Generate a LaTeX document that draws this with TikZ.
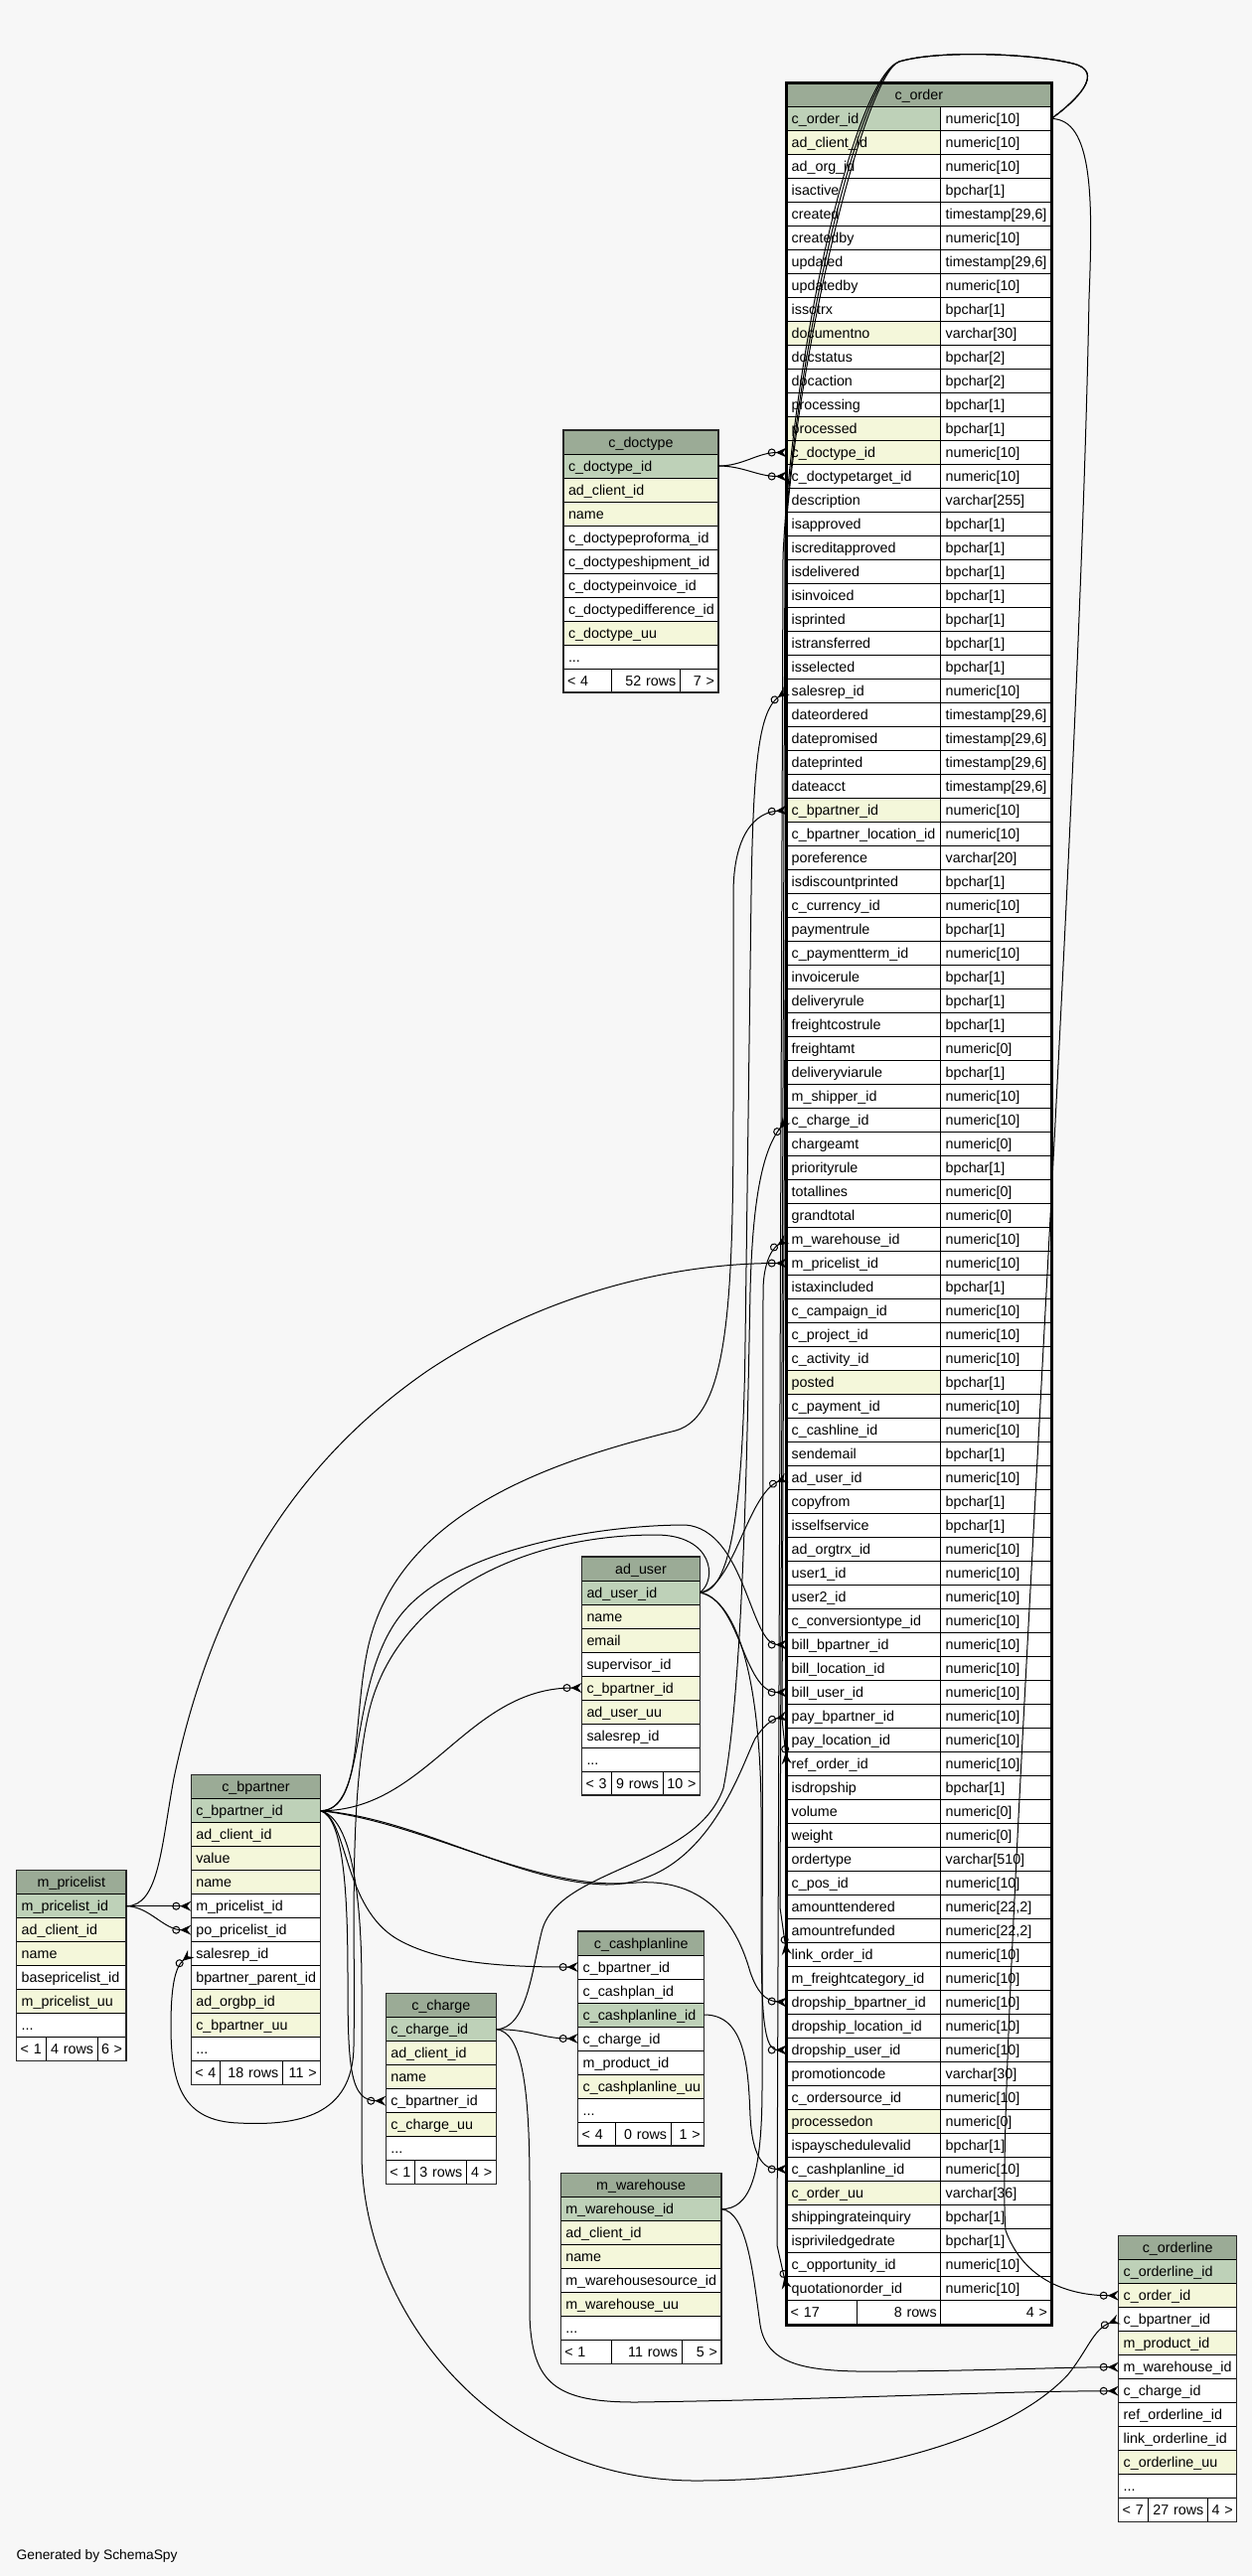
\documentclass[tikz,border=0pt]{standalone}
\usepackage{fontspec}
\setmainfont{Liberation Sans}
\usetikzlibrary{arrows.meta}
\hyphenpenalty=10000
\hbadness=10000
\hfuzz=20pt
\definecolor{bg}{HTML}{F7F7F7}
\definecolor{hdr}{HTML}{9BAB96}
\definecolor{pk}{HTML}{BED1B8}
\definecolor{ix}{HTML}{F4F7DA}
\definecolor{wt}{HTML}{FFFFFF}
\tikzset{
 cellbase/.style={draw=black, line width=0.8pt, inner xsep=5pt, inner ysep=0pt, minimum height=24pt, text height=11.5pt, text depth=1.5pt, anchor=north west, outer sep=0pt},
 hdrcell/.style={cellbase, fill=hdr, align=center},
 footcell/.style={cellbase, fill=wt, inner xsep=4pt},
 fk/.style={draw=black, line width=1pt, -{Circle[open,length=8pt,width=8pt] Stealth[reversed,length=11pt,width=10pt,inset=4pt]}},
 tborder/.style={draw=black!85, line width=1.4pt},
}
\newcommand\settab[4]{\def\Tn{#1}\def\Tx{#2}\def\Ty{#3}\def\Tw{#4}}
\newcommand\thd[1]{\node[hdrcell, minimum width=\Tw pt] (\Tn-h) at (\Tx,\Ty) {#1};}
\newcommand\trw[3]{\pgfmathsetmacro\Tyy{\Ty+24*#1}\pgfmathsetmacro\Tww{\Tw-10}%
 \node[cellbase, fill=#2, text width=\Tww pt, align=left] (\Tn-#1) at (\Tx,\Tyy) {\mbox{#3}};}
\newcommand\orw[4]{\pgfmathsetmacro\Tyy{83.5+24*#1}%
 \node[cellbase, fill=#2, text width=145pt, align=left] (o-#1) at (791.7,\Tyy) {\mbox{#3}};%
 \node[cellbase, fill=wt, text width=101.3pt, align=left] (ot-#1) at (946.7,\Tyy) {\mbox{#4}};}
\newcommand\tft[6]{\pgfmathsetmacro\Tyy{\Ty+24*#1}%
 \pgfmathsetmacro\Wa{#2-\Tx-8}\pgfmathsetmacro\Wb{#3-#2-8}\pgfmathsetmacro\Wc{\Tx+\Tw-#3-8}%
 \node[footcell, text width=\Wa pt, align=left] (\Tn-fa) at (\Tx,\Tyy) {\mbox{#4}};%
 \node[footcell, text width=\Wb pt, align=right] (\Tn-fb) at (#2,\Tyy) {\mbox{#5}};%
 \node[footcell, text width=\Wc pt, align=right] (\Tn-fc) at (#3,\Tyy) {\mbox{#6}};%
 \pgfmathsetmacro\Th{24*(#1+1)}%
 \draw[tborder] (\Tx,\Ty) rectangle ++(\Tw,\Th);}
\begin{document}
\begin{tikzpicture}[x=1pt,y=-1pt,font=\fontsize{14.3}{17}\selectfont]
\useasboundingbox (0,0) rectangle (1260,2593);
\fill[bg] (0,0) rectangle (1260,2593);

% ---------- c_order ----------
\settab{o}{791.7}{83.5}{266.3}
\thd{c\_order}
\orw{1}{pk}{c\_order\_id}{numeric[10]}
\orw{2}{ix}{ad\_client\_id}{numeric[10]}
\orw{3}{wt}{ad\_org\_id}{numeric[10]}
\orw{4}{wt}{isactive}{bpchar[1]}
\orw{5}{wt}{created}{timestamp[29,6]}
\orw{6}{wt}{createdby}{numeric[10]}
\orw{7}{wt}{updated}{timestamp[29,6]}
\orw{8}{wt}{updatedby}{numeric[10]}
\orw{9}{wt}{issotrx}{bpchar[1]}
\orw{10}{ix}{documentno}{varchar[30]}
\orw{11}{wt}{docstatus}{bpchar[2]}
\orw{12}{wt}{docaction}{bpchar[2]}
\orw{13}{wt}{processing}{bpchar[1]}
\orw{14}{ix}{processed}{bpchar[1]}
\orw{15}{ix}{c\_doctype\_id}{numeric[10]}
\orw{16}{wt}{c\_doctypetarget\_id}{numeric[10]}
\orw{17}{wt}{description}{varchar[255]}
\orw{18}{wt}{isapproved}{bpchar[1]}
\orw{19}{wt}{iscreditapproved}{bpchar[1]}
\orw{20}{wt}{isdelivered}{bpchar[1]}
\orw{21}{wt}{isinvoiced}{bpchar[1]}
\orw{22}{wt}{isprinted}{bpchar[1]}
\orw{23}{wt}{istransferred}{bpchar[1]}
\orw{24}{wt}{isselected}{bpchar[1]}
\orw{25}{wt}{salesrep\_id}{numeric[10]}
\orw{26}{wt}{dateordered}{timestamp[29,6]}
\orw{27}{wt}{datepromised}{timestamp[29,6]}
\orw{28}{wt}{dateprinted}{timestamp[29,6]}
\orw{29}{wt}{dateacct}{timestamp[29,6]}
\orw{30}{ix}{c\_bpartner\_id}{numeric[10]}
\orw{31}{wt}{c\_bpartner\_location\_id}{numeric[10]}
\orw{32}{wt}{poreference}{varchar[20]}
\orw{33}{wt}{isdiscountprinted}{bpchar[1]}
\orw{34}{wt}{c\_currency\_id}{numeric[10]}
\orw{35}{wt}{paymentrule}{bpchar[1]}
\orw{36}{wt}{c\_paymentterm\_id}{numeric[10]}
\orw{37}{wt}{invoicerule}{bpchar[1]}
\orw{38}{wt}{deliveryrule}{bpchar[1]}
\orw{39}{wt}{freightcostrule}{bpchar[1]}
\orw{40}{wt}{freightamt}{numeric[0]}
\orw{41}{wt}{deliveryviarule}{bpchar[1]}
\orw{42}{wt}{m\_shipper\_id}{numeric[10]}
\orw{43}{wt}{c\_charge\_id}{numeric[10]}
\orw{44}{wt}{chargeamt}{numeric[0]}
\orw{45}{wt}{priorityrule}{bpchar[1]}
\orw{46}{wt}{totallines}{numeric[0]}
\orw{47}{wt}{grandtotal}{numeric[0]}
\orw{48}{wt}{m\_warehouse\_id}{numeric[10]}
\orw{49}{wt}{m\_pricelist\_id}{numeric[10]}
\orw{50}{wt}{istaxincluded}{bpchar[1]}
\orw{51}{wt}{c\_campaign\_id}{numeric[10]}
\orw{52}{wt}{c\_project\_id}{numeric[10]}
\orw{53}{wt}{c\_activity\_id}{numeric[10]}
\orw{54}{ix}{posted}{bpchar[1]}
\orw{55}{wt}{c\_payment\_id}{numeric[10]}
\orw{56}{wt}{c\_cashline\_id}{numeric[10]}
\orw{57}{wt}{sendemail}{bpchar[1]}
\orw{58}{wt}{ad\_user\_id}{numeric[10]}
\orw{59}{wt}{copyfrom}{bpchar[1]}
\orw{60}{wt}{isselfservice}{bpchar[1]}
\orw{61}{wt}{ad\_orgtrx\_id}{numeric[10]}
\orw{62}{wt}{user1\_id}{numeric[10]}
\orw{63}{wt}{user2\_id}{numeric[10]}
\orw{64}{wt}{c\_conversiontype\_id}{numeric[10]}
\orw{65}{wt}{bill\_bpartner\_id}{numeric[10]}
\orw{66}{wt}{bill\_location\_id}{numeric[10]}
\orw{67}{wt}{bill\_user\_id}{numeric[10]}
\orw{68}{wt}{pay\_bpartner\_id}{numeric[10]}
\orw{69}{wt}{pay\_location\_id}{numeric[10]}
\orw{70}{wt}{ref\_order\_id}{numeric[10]}
\orw{71}{wt}{isdropship}{bpchar[1]}
\orw{72}{wt}{volume}{numeric[0]}
\orw{73}{wt}{weight}{numeric[0]}
\orw{74}{wt}{ordertype}{varchar[510]}
\orw{75}{wt}{c\_pos\_id}{numeric[10]}
\orw{76}{wt}{amounttendered}{numeric[22,2]}
\orw{77}{wt}{amountrefunded}{numeric[22,2]}
\orw{78}{wt}{link\_order\_id}{numeric[10]}
\orw{79}{wt}{m\_freightcategory\_id}{numeric[10]}
\orw{80}{wt}{dropship\_bpartner\_id}{numeric[10]}
\orw{81}{wt}{dropship\_location\_id}{numeric[10]}
\orw{82}{wt}{dropship\_user\_id}{numeric[10]}
\orw{83}{wt}{promotioncode}{varchar[30]}
\orw{84}{wt}{c\_ordersource\_id}{numeric[10]}
\orw{85}{ix}{processedon}{numeric[0]}
\orw{86}{wt}{ispayschedulevalid}{bpchar[1]}
\orw{87}{wt}{c\_cashplanline\_id}{numeric[10]}
\orw{88}{ix}{c\_order\_uu}{varchar[36]}
\orw{89}{wt}{shippingrateinquiry}{bpchar[1]}
\orw{90}{wt}{ispriviledgedrate}{bpchar[1]}
\orw{91}{wt}{c\_opportunity\_id}{numeric[10]}
\orw{92}{wt}{quotationorder\_id}{numeric[10]}
\tft{93}{862.3}{946.7}{< 17}{8 rows}{4 >}
\draw[black, line width=3pt] (791.7,83.5) rectangle (1058,2340);

% ---------- c_doctype ----------
\settab{dt}{567}{433}{156}
\thd{c\_doctype}
\trw{1}{pk}{c\_doctype\_id}
\trw{2}{ix}{ad\_client\_id}
\trw{3}{ix}{name}
\trw{4}{wt}{c\_doctypeproforma\_id}
\trw{5}{wt}{c\_doctypeshipment\_id}
\trw{6}{wt}{c\_doctypeinvoice\_id}
\trw{7}{wt}{c\_doctypedifference\_id}
\trw{8}{ix}{c\_doctype\_uu}
\trw{9}{wt}{...}
\tft{10}{615}{684.3}{< 4}{52 rows}{7 >}

% ---------- ad_user ----------
\settab{au}{585.5}{1567}{119}
\thd{ad\_user}
\trw{1}{pk}{ad\_user\_id}
\trw{2}{ix}{name}
\trw{3}{ix}{email}
\trw{4}{wt}{supervisor\_id}
\trw{5}{ix}{c\_bpartner\_id}
\trw{6}{ix}{ad\_user\_uu}
\trw{7}{wt}{salesrep\_id}
\trw{8}{wt}{...}
\tft{9}{615}{667}{< 3}{9 rows}{10 >}

% ---------- c_bpartner ----------
\settab{bp}{192.3}{1786.7}{130.4}
\thd{c\_bpartner}
\trw{1}{pk}{c\_bpartner\_id}
\trw{2}{ix}{ad\_client\_id}
\trw{3}{ix}{value}
\trw{4}{ix}{name}
\trw{5}{wt}{m\_pricelist\_id}
\trw{6}{wt}{po\_pricelist\_id}
\trw{7}{wt}{salesrep\_id}
\trw{8}{wt}{bpartner\_parent\_id}
\trw{9}{ix}{ad\_orgbp\_id}
\trw{10}{ix}{c\_bpartner\_uu}
\trw{11}{wt}{...}
\tft{12}{221.7}{284.3}{< 4}{18 rows}{11 >}

% ---------- m_pricelist ----------
\settab{pl}{16.7}{1882.7}{110.3}
\thd{m\_pricelist}
\trw{1}{pk}{m\_pricelist\_id}
\trw{2}{ix}{ad\_client\_id}
\trw{3}{ix}{name}
\trw{4}{wt}{basepricelist\_id}
\trw{5}{ix}{m\_pricelist\_uu}
\trw{6}{wt}{...}
\tft{7}{46}{98}{< 1}{4 rows}{6 >}

% ---------- c_charge ----------
\settab{ch}{388.3}{2006.7}{111}
\thd{c\_charge}
\trw{1}{pk}{c\_charge\_id}
\trw{2}{ix}{ad\_client\_id}
\trw{3}{ix}{name}
\trw{4}{wt}{c\_bpartner\_id}
\trw{5}{ix}{c\_charge\_uu}
\trw{6}{wt}{...}
\tft{7}{417.7}{469.3}{< 1}{3 rows}{4 >}

% ---------- c_cashplanline ----------
\settab{cp}{581.7}{1944}{127}
\thd{c\_cashplanline}
\trw{1}{wt}{c\_bpartner\_id}
\trw{2}{wt}{c\_cashplan\_id}
\trw{3}{pk}{c\_cashplanline\_id}
\trw{4}{wt}{c\_charge\_id}
\trw{5}{wt}{m\_product\_id}
\trw{6}{ix}{c\_cashplanline\_uu}
\trw{7}{wt}{...}
\tft{8}{619}{675}{< 4}{0 rows}{1 >}

% ---------- m_warehouse ----------
\settab{wh}{564.3}{2187.7}{161.7}
\thd{m\_warehouse}
\trw{1}{pk}{m\_warehouse\_id}
\trw{2}{ix}{ad\_client\_id}
\trw{3}{ix}{name}
\trw{4}{wt}{m\_warehousesource\_id}
\trw{5}{ix}{m\_warehouse\_uu}
\trw{6}{wt}{...}
\tft{7}{615}{686}{< 1}{11 rows}{5 >}

% ---------- c_orderline ----------
\settab{ol}{1125.7}{2250.7}{119}
\thd{c\_orderline}
\trw{1}{pk}{c\_orderline\_id}
\trw{2}{ix}{c\_order\_id}
\trw{3}{wt}{c\_bpartner\_id}
\trw{4}{ix}{m\_product\_id}
\trw{5}{wt}{m\_warehouse\_id}
\trw{6}{wt}{c\_charge\_id}
\trw{7}{wt}{ref\_orderline\_id}
\trw{8}{wt}{link\_orderline\_id}
\trw{9}{ix}{c\_orderline\_uu}
\trw{10}{wt}{...}
\tft{11}{1155}{1215.3}{< 7}{27 rows}{4 >}

\node[anchor=west, inner sep=0pt, font=\fontsize{13.8}{16}\selectfont] (gen) at (16.5,2573) {Generated by SchemaSpy};

% ---------- connectors ----------
% c_doctype
\draw[fk] (dt-1.east) .. controls (748,469) and (762,455.5) .. (o-15.west);
\draw[fk] (dt-1.east) .. controls (748,469) and (762,479.5) .. (o-16.west);
% self references of c_order
\draw[fk] (ot-1.east) .. controls (1085,100) and (1112,72) .. (1080,64) .. controls (1040,54) and (945,50) .. (905,62) .. controls (872,74) and (808,330) .. (792,520) -- (787,1730) -- (o-70.west);
\draw[fk] (ot-1.east) .. controls (1085,100) and (1112,72) .. (1080,64) .. controls (1040,54) and (945,50) .. (905,62) .. controls (866,76) and (803,340) .. (790,540) -- (785,1920) -- (o-78.west);
\draw[fk] (ot-1.east) .. controls (1085,100) and (1112,72) .. (1080,64) .. controls (1040,54) and (945,50) .. (905,62) .. controls (860,78) and (798,350) .. (788,560) -- (782,2260) -- (o-92.west);
% c_order -> c_orderline
\draw[fk] (ot-1.east) .. controls (1100,119.5) and (1100,200) .. (1096,300) .. controls (1085,900) and (1000,2100) .. (1012,2245) .. controls (1030,2295) and (1075,2310.7) .. (ol-2.west);
% ad_user
\draw[fk] (au-1.east) .. controls (735,1603) and (748,1520) .. (750,1350) -- (756,900) .. controls (758,760) and (765,715) .. (o-25.west);
\draw[fk] (au-1.east) .. controls (738,1598) and (752,1505) .. (o-58.west);
\draw[fk] (au-1.east) .. controls (745,1610) and (748,1703.5) .. (o-67.west);
\draw[fk] (au-1.east) .. controls (745,1612) and (765,1700) .. (766,1820) .. controls (767,1980) and (762,2063.5) .. (o-82.west);
\draw[fk] (au-1.east) .. controls (722,1590) and (718,1545) .. (660,1545) .. controls (520,1545) and (400,1610) .. (372,1720) .. controls (350,1810) and (358,1950) .. (356,2060) .. controls (355,2130) and (300,2140) .. (240,2137) .. controls (185,2135) and (172,2100) .. (172,2040) .. controls (172,2000) and (176,1980) .. (bp-7.west);
% c_bpartner
\draw[fk] (bp-1.east) .. controls (430,1822.7) and (470,1699) .. (au-5.west);
\draw[fk] (bp-1.east) .. controls (365,1822) and (355,1730) .. (370,1660) .. controls (400,1520) and (560,1470) .. (680,1440) .. controls (735,1425) and (738,1300) .. (738,1100) -- (738,900) .. controls (738,840) and (760,818) .. (o-30.west);
\draw[fk] (bp-1.east) .. controls (370,1822) and (350,1700) .. (400,1630) .. controls (450,1560) and (600,1535) .. (690,1535) .. controls (750,1540) and (755,1655.5) .. (o-65.west);
\draw[fk] (bp-1.east) .. controls (420,1830) and (520,1895) .. (610,1897) .. controls (710,1897) and (745,1780) .. (760,1750) .. controls (768,1738) and (776,1731) .. (o-68.west);
\draw[fk] (bp-1.east) .. controls (430,1835) and (540,1905) .. (640,1895) .. controls (720,1890) and (745,1950) .. (755,1985) .. controls (762,2005) and (770,2014) .. (o-80.west);
\draw[fk] (bp-1.east) .. controls (350,1830) and (345,1920) .. (400,1952) .. controls (440,1975) and (500,1980) .. (cp-1.west);
\draw[fk] (bp-1.east) .. controls (345,1830) and (350,1900) .. (350,1990) .. controls (350,2080) and (352,2114.7) .. (ch-4.west);
\draw[fk] (bp-1.east) .. controls (352,1830) and (364,1900) .. (364,2000) -- (364,2170) .. controls (366,2330) and (500,2497) .. (700,2497) .. controls (880,2497) and (1020,2450) .. (1075,2390) .. controls (1095,2365) and (1100,2345) .. (ol-3.west);
% c_charge
\draw[fk] (ch-1.east) .. controls (535,2042.7) and (545,2052) .. (cp-4.west);
\draw[fk] (ch-1.east) .. controls (530,2042) and (535,1985) .. (545,1945) .. controls (560,1880) and (700,1880) .. (728,1800) .. controls (748,1700) and (752,1450) .. (755,1300) .. controls (757,1220) and (765,1160) .. (o-43.west);
\draw[fk] (ch-1.east) .. controls (525,2045) and (533,2100) .. (533,2200) -- (533,2330) .. controls (535,2400) and (560,2418) .. (640,2418) .. controls (850,2415) and (1000,2407) .. (ol-6.west);
% m_warehouse
\draw[fk] (wh-1.east) .. controls (755,2223.7) and (767,2190) .. (767,2100) -- (768,1300) .. controls (768,1275) and (775,1258) .. (o-48.west);
\draw[fk] (wh-1.east) .. controls (752,2226) and (758,2290) .. (765,2340) .. controls (772,2385) and (820,2388) .. (900,2387) .. controls (1000,2386) and (1080,2382.7) .. (ol-5.west);
% c_cashplanline
\draw[fk] (cp-3.east) .. controls (750,2028) and (753,2080) .. (755,2130) .. controls (757,2170) and (768,2183.5) .. (o-87.west);
% m_pricelist
\draw[fk] (pl-1.east) -- (bp-5.west);
\draw[fk] (pl-1.east) .. controls (150,1918.7) and (165,1942.7) .. (bp-6.west);
\draw[fk] (pl-1.east) .. controls (160,1918.7) and (162,1860) .. (175,1790) .. controls (215,1600) and (300,1470) .. (430,1380) .. controls (550,1300) and (680,1271.5) .. (o-49.west);
\end{tikzpicture}
\end{document}
